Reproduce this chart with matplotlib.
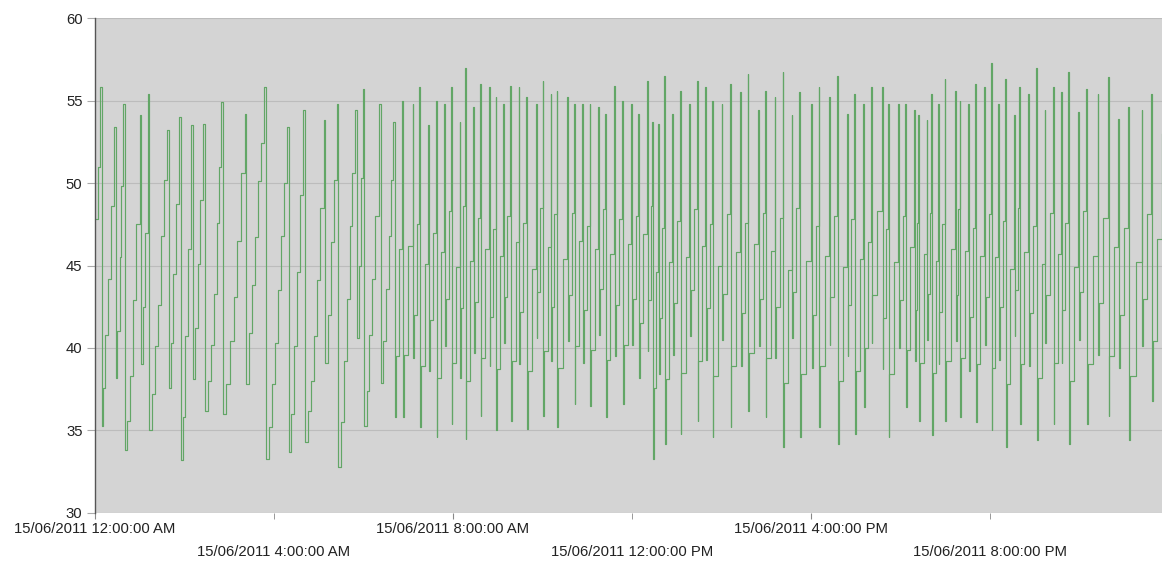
"""
Sawtooth temperature-style trace for 15/06/2011, drawn as a stepped line
on a grey plot area with staggered date/time tick labels.
"""

import matplotlib
matplotlib.use("Agg")
import matplotlib.pyplot as plt

# Minutes since midnight for every recorded change of value.
TIMES = [
    0, 4, 7,
    9, 11, 14, 18, 22, 26,
    28, 30, 33, 35, 38,
    40, 43, 47, 51, 55, 60,
    62, 64, 67, 71,
    73, 77, 81, 85, 89, 93, 97,
    99, 102, 105, 109, 113,
    115, 118, 121, 125, 129,
    131, 134, 138, 141, 145,
    147, 151, 155, 159, 163, 166, 169,
    171, 176, 181, 186, 191, 196, 201,
    203, 207, 211, 215, 219, 223, 227,
    229, 233, 237, 241, 245, 249, 253, 258,
    260, 263, 267, 271, 275, 279,
    281, 285, 289, 293, 297, 302, 307,
    309, 312, 316, 320, 324,
    326, 330, 334, 338, 342, 345, 349,
    351, 354, 356, 359,
    361, 364, 368, 372, 376, 381,
    383, 386, 390, 394, 397, 400,
    402, 403, 407, 412,
    413, 414, 420, 426,
    427, 428, 432, 435,
    436, 437, 442, 447,
    448, 449, 453, 457,
    458, 459, 464, 468,
    469, 470, 474, 477,
    478, 479, 484, 489,
    490, 491, 494, 496,
    497, 498, 503, 507,
    508, 509, 513, 516,
    517, 518, 523, 528,
    529, 530, 534, 537,
    538, 539, 543, 547,
    548, 549, 553, 557,
    558, 559, 564, 568,
    569, 570, 574, 578,
    579, 580, 586, 591,
    592, 593, 597, 600,
    601, 602, 607, 611,
    612, 613, 616, 619,
    620, 621, 627, 633,
    634, 635, 639, 642,
    643, 644, 649, 653,
    654, 655, 659, 663,
    664, 665, 670, 675,
    676, 677, 681, 684,
    685, 686, 691, 696,
    697, 698, 703, 707,
    708, 709, 714, 719,
    720, 721, 725, 728,
    729, 730, 735, 740,
    741, 742, 745, 747,
    748, 749, 752, 755,
    756, 757, 760, 763,
    764, 765, 770, 774,
    775, 776, 780, 784,
    785, 786, 792, 797,
    798, 799, 803, 807,
    808, 809, 814, 818,
    819, 820, 824, 827,
    828, 829, 835, 840,
    841, 842, 847, 851,
    852, 853, 859, 865,
    866, 867, 871, 875,
    876, 877, 883, 889,
    890, 891, 895, 898,
    899, 900, 906, 911,
    912, 913, 918, 922,
    923, 924, 929, 934,
    935, 936, 940, 944,
    945, 946, 953, 960,
    961, 962, 966, 970,
    971, 972, 978, 984,
    985, 986, 991, 995,
    996, 997, 1003, 1008,
    1009, 1010, 1014, 1018,
    1019, 1020, 1025, 1030,
    1031, 1032, 1036, 1040,
    1041, 1042, 1049, 1055,
    1056, 1057, 1060, 1063,
    1064, 1065, 1071, 1077,
    1078, 1079, 1083, 1086,
    1087, 1088, 1093, 1098,
    1099, 1100, 1102, 1104,
    1105, 1106, 1111, 1115,
    1116, 1117, 1119, 1121,
    1122, 1123, 1127, 1130,
    1131, 1132, 1136, 1139,
    1140, 1141, 1147, 1153,
    1154, 1155, 1157, 1159,
    1160, 1161, 1166, 1171,
    1172, 1173, 1177, 1180,
    1181, 1182, 1187, 1192,
    1193, 1194, 1198, 1201,
    1202, 1203, 1207, 1211,
    1212, 1213, 1217, 1220,
    1221, 1222, 1227, 1232,
    1233, 1234, 1237, 1239,
    1240, 1241, 1246, 1251,
    1252, 1253, 1258, 1262,
    1263, 1264, 1269, 1273,
    1274, 1275, 1280, 1284,
    1285, 1286, 1291, 1295,
    1296, 1297, 1301, 1305,
    1306, 1307, 1313, 1318,
    1319, 1320, 1325, 1329,
    1330, 1331, 1338, 1344,
    1345, 1346, 1352, 1358,
    1359, 1360, 1366, 1372,
    1373, 1374, 1380, 1385,
    1386, 1387, 1395, 1403,
    1404, 1405, 1411, 1416,
    1417, 1418, 1424, 1430,
]

VALUES = [
    47.8, 51.0, 55.8,
    35.3, 37.6, 40.8, 44.2, 48.6, 53.4,
    38.2, 41.0, 45.5, 49.8, 54.8,
    33.8, 35.6, 38.3, 42.9, 47.5, 54.1,
    39.0, 42.5, 47.0, 55.4,
    35.0, 37.2, 40.1, 42.6, 46.8, 50.2, 53.2,
    37.6, 40.3, 44.5, 48.7, 54.0,
    33.2, 35.8, 40.7, 46.0, 53.5,
    38.1, 41.2, 45.1, 49.0, 53.6,
    36.2, 38.0, 40.2, 43.3, 47.6, 51.0, 54.9,
    36.0, 37.8, 40.4, 43.1, 46.5, 50.6, 54.2,
    37.8, 40.9, 43.8, 46.7, 50.1, 52.4, 55.8,
    33.3, 35.2, 37.8, 40.3, 43.5, 46.8, 50.0, 53.4,
    33.7, 36.0, 40.1, 44.6, 49.3, 54.4,
    34.3, 36.2, 38.0, 40.7, 44.1, 48.5, 53.8,
    39.1, 42.0, 46.4, 50.2, 54.8,
    32.8, 35.5, 39.2, 43.0, 47.4, 50.6, 54.4,
    40.6, 45.0, 50.3, 55.7,
    35.3, 37.4, 40.8, 44.2, 48.0, 54.8,
    37.9, 40.4, 43.6, 46.8, 50.2, 53.7,
    35.8, 39.5, 46.0, 55.0,
    35.8, 39.6, 46.2, 54.8,
    39.4, 42.0, 47.5, 55.8,
    35.2, 38.9, 45.1, 53.5,
    38.6, 41.7, 47.0, 55.0,
    34.6, 38.2, 45.8, 54.8,
    40.1, 43.0, 48.3, 55.8,
    35.4, 39.1, 44.9, 53.7,
    38.2, 42.4, 48.6, 57.0,
    34.5, 38.0, 45.3, 54.6,
    39.7, 42.8, 47.9, 56.0,
    35.9, 39.4, 46.0, 55.8,
    38.9, 41.9, 47.2, 55.2,
    35.0, 38.7, 45.6, 54.8,
    40.3, 43.1, 48.0, 55.9,
    35.6, 39.2, 46.4, 55.8,
    39.0, 42.2, 47.6, 55.2,
    35.1, 38.6, 44.8, 54.8,
    40.6, 43.4, 48.5, 56.2,
    35.9, 39.8, 46.1, 55.4,
    39.2, 42.5, 48.1, 55.6,
    35.2, 38.8, 45.4, 55.2,
    40.4, 43.2, 48.2, 54.8,
    36.6, 40.1, 46.5, 54.8,
    39.1, 42.3, 47.4, 54.8,
    36.5, 39.9, 46.0, 54.6,
    40.8, 43.6, 48.4, 54.2,
    35.8, 39.3, 45.7, 55.9,
    39.5, 42.6, 47.8, 55.0,
    36.6, 40.2, 46.3, 54.8,
    40.2, 43.0, 48.0, 54.2,
    38.2, 41.5, 46.9, 56.2,
    39.8, 42.9, 48.6, 53.7,
    33.3, 37.6, 44.6, 53.6,
    38.4, 41.8, 47.3, 56.5,
    34.2, 38.1, 45.2, 54.2,
    39.6, 42.7, 47.7, 55.6,
    34.8, 38.5, 45.5, 54.8,
    40.7, 43.5, 48.4, 56.2,
    35.6, 39.2, 46.2, 55.8,
    39.3, 42.4, 47.5, 55.0,
    34.6, 38.3, 45.0, 54.8,
    40.5, 43.3, 48.1, 56.0,
    35.2, 38.9, 45.8, 55.5,
    38.9, 42.1, 47.6, 56.6,
    36.2, 39.7, 46.3, 54.4,
    40.1, 43.0, 48.2, 55.6,
    35.8, 39.4, 45.9, 55.2,
    39.4, 42.5, 47.9, 56.7,
    34.0, 37.9, 44.7, 54.1,
    40.6, 43.4, 48.5, 55.5,
    34.6, 38.4, 45.3, 54.8,
    38.8, 42.0, 47.4, 55.8,
    35.2, 38.9, 45.6, 55.2,
    40.2, 43.1, 48.0, 56.5,
    34.2, 38.0, 44.9, 54.2,
    39.5, 42.6, 47.8, 55.4,
    34.8, 38.6, 45.4, 54.8,
    36.4, 40.0, 46.4, 55.8,
    40.3, 43.2, 48.3, 55.8,
    38.7, 41.8, 47.2, 54.8,
    34.6, 38.4, 45.2, 54.8,
    40.0, 42.9, 48.0, 54.8,
    36.4, 39.9, 46.1, 54.4,
    39.2, 42.3, 47.6, 54.1,
    35.6, 39.1, 45.7, 53.8,
    40.5, 43.3, 48.2, 55.4,
    34.7, 38.5, 45.3, 54.8,
    39.0, 42.2, 47.5, 56.3,
    35.6, 39.2, 46.0, 55.6,
    40.4, 43.2, 48.4, 55.0,
    35.8, 39.4, 45.9, 54.8,
    38.6, 41.9, 47.3, 56.0,
    35.5, 39.0, 45.6, 55.8,
    40.2, 43.1, 48.1, 57.3,
    35.0, 38.8, 45.5, 54.8,
    39.3, 42.5, 47.7, 56.3,
    34.0, 37.8, 44.8, 54.1,
    40.7, 43.5, 48.5, 55.8,
    35.4, 39.0, 45.8, 55.4,
    38.9, 42.1, 47.4, 57.0,
    34.4, 38.2, 45.1, 54.4,
    40.3, 43.2, 48.2, 55.8,
    35.4, 39.1, 45.7, 55.5,
    39.1, 42.3, 47.6, 56.7,
    34.2, 38.0, 44.9, 54.3,
    40.5, 43.4, 48.3, 55.7,
    35.4, 39.0, 45.6, 55.4,
    39.6, 42.7, 47.9, 56.4,
    35.9, 39.5, 46.1, 53.9,
    38.8, 42.0, 47.3, 54.6,
    34.4, 38.3, 45.2, 54.4,
    40.1, 43.0, 48.1, 55.4,
    36.8, 40.4, 46.6, 53.0,
]

# Date axis ticks (minutes since midnight) and their labels.
TICK_MINUTES = [0, 240, 480, 720, 960, 1200]
TICK_LABELS = [
    "15/06/2011 12:00:00 AM",
    "15/06/2011 4:00:00 AM",
    "15/06/2011 8:00:00 AM",
    "15/06/2011 12:00:00 PM",
    "15/06/2011 4:00:00 PM",
    "15/06/2011 8:00:00 PM",
]
Y_TICKS = [30, 35, 40, 45, 50, 55, 60]


def main():
    plt.rcParams["font.family"] = ["Liberation Sans", "DejaVu Sans"]
    fig = plt.figure(figsize=(11.64, 5.82), dpi=100)
    ax = fig.add_axes([0.0816, 0.1186, 0.9164, 0.8504])
    ax.set_facecolor("#d4d4d4")

    ax.plot(TIMES, VALUES, drawstyle="steps-post", color="#62a666",
            linewidth=0.85)

    ax.set_xlim(0, 1430)
    ax.set_ylim(30, 60)
    ax.set_yticks(Y_TICKS)
    ax.yaxis.grid(True, color="#bcbcbc", linewidth=0.8)
    ax.set_axisbelow(True)

    # Staggered labels: even ones as major ticks, odd ones pushed lower.
    ax.set_xticks(TICK_MINUTES[0::2], TICK_LABELS[0::2])
    ax.set_xticks(TICK_MINUTES[1::2], TICK_LABELS[1::2], minor=True)
    ax.tick_params(axis="x", which="major", length=4, pad=2.5,
                   color="#888888", labelsize=10.7, labelcolor="#222222")
    ax.tick_params(axis="x", which="minor", length=4, pad=19,
                   color="#888888", labelsize=10.7, labelcolor="#222222")
    ax.tick_params(axis="y", length=6, pad=3, color="#aaaaaa",
                   labelsize=10.7, labelcolor="#222222")

    for side in ("top", "right", "bottom"):
        ax.spines[side].set_visible(False)
    ax.spines["left"].set_color("#555555")
    ax.spines["left"].set_linewidth(1.0)

    fig.savefig("out.png", dpi=100, facecolor="white")


if __name__ == "__main__":
    main()
